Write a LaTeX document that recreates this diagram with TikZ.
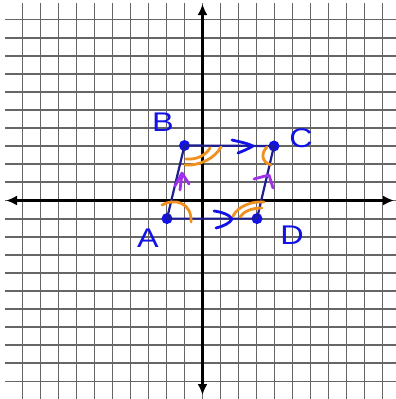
\documentclass[tikz,border=0pt]{standalone}
\usepackage{fontspec}
\setmainfont{Liberation Sans}
\usetikzlibrary{arrows.meta}
\definecolor{pen}{HTML}{1212E6}
\definecolor{edgec}{HTML}{1E1E90}
\definecolor{markc}{HTML}{A030EA}
\definecolor{arcc}{HTML}{F0901E}
\begin{document}
\begin{tikzpicture}[x=1pt,y=-1pt,
  gridline/.style={draw=black!60,line width=1.9pt},
  axisline/.style={draw=black,line width=2.8pt,{Latex[length=11pt,width=10pt]}-{Latex[length=11pt,width=10pt]}},
  dot/.style={circle,fill=pen,inner sep=0pt,minimum size=11pt},
  edgeline/.style={draw=edgec,line width=2.2pt},
  lbl/.style={text=pen,font=\fontsize{27}{29}\selectfont,inner sep=0pt,xscale=1.2},
  pencil/.style={line width=2.8pt,line cap=round,line join=round},
  ]
\useasboundingbox (0,0) rectangle (396,399);
\fill[white] (0,0) rectangle (396,399);
% grid
\foreach \k in {-10,...,10} {
  \draw[gridline] ({202.5+18*\k},3) -- ({202.5+18*\k},399);
  \draw[gridline] (5,{200.5+18.1*\k}) -- (396,{200.5+18.1*\k});
}
% axes
\coordinate (xl) at (6,200.5);
\coordinate (xr) at (394,200.5);
\coordinate (yt) at (202.5,4);
\coordinate (yb) at (202.5,395);
\draw[axisline] (xl) -- (xr);
\draw[axisline] (yt) -- (yb);
% vertices
\node[dot] (A) at (167,218.6) {};
\node[dot] (B) at (184.5,145.5) {};
\node[dot] (C) at (274,146) {};
\node[dot] (D) at (257,218.6) {};
\draw[edgeline] (A.center) -- (B.center) -- (C.center) -- (D.center) -- (A.center);
% labels
\node[lbl] (lB) at (163,122) {B};
\node[lbl] (lC) at (301,138) {C};
\node[lbl] (lA) at (148,238) {A};
\node[lbl] (lD) at (292,235) {D};
% parallel marks (blue)
\draw[pencil,draw=pen] (232,140) .. controls (240,142) and (247,143) .. (253,146) .. controls (248,149) and (243,151) .. (238,153);
\draw[pencil,draw=pen] (214,211) .. controls (222,212) and (230,215) .. (232,219) .. controls (230,223) and (224,226) .. (216,228);
% purple marks
\draw[pencil,draw=markc] (175,186) -- (182,173) -- (189,184);
\draw[pencil,draw=markc] (182,174) -- (180,190);
\draw[pencil,draw=markc] (254,179) -- (269,175) -- (273,188);
% orange angle arcs
\draw[pencil,draw=arcc] (185,165) .. controls (200,166) and (215,158) .. (221,147);
\draw[pencil,draw=arcc] (186,159) .. controls (197,160) and (206,155) .. (210,148);
\draw[pencil,draw=arcc] (267,147) .. controls (261,153) and (261,162) .. (271,165);
\draw[pencil,draw=arcc] (162,205) .. controls (174,198) and (192,202) .. (191,222);
\draw[pencil,draw=arcc] (233,216) .. controls (238,206) and (252,201) .. (264,202);
\draw[pencil,draw=arcc] (240,217) .. controls (244,211) and (252,208) .. (262,208);
\end{tikzpicture}
\end{document}
